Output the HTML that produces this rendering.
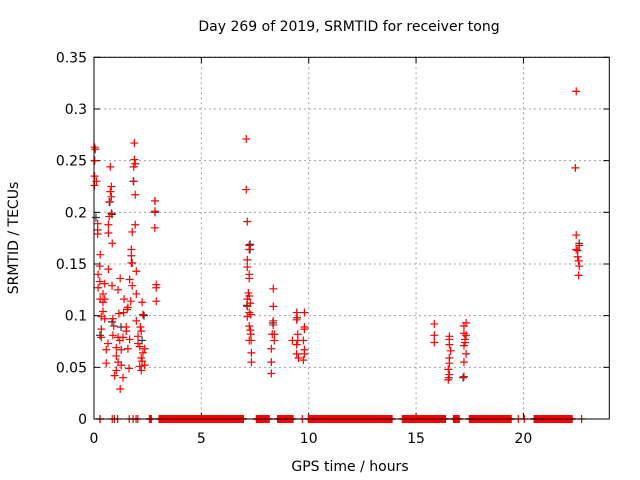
<!DOCTYPE html>
<html><head><meta charset="utf-8"><style>
html,body{margin:0;padding:0;background:#fff;}
svg{display:block;font-family:"DejaVu Sans","Liberation Sans",sans-serif;}
</style></head><body>
<svg id="chart" width="640" height="480">
<text x="349" y="31" font-size="14" text-anchor="middle" fill="#000">Day 269 of 2019, SRMTID for receiver tong</text>
<text x="350" y="471" font-size="14" text-anchor="middle">GPS time / hours</text>
<text transform="translate(18,238) rotate(-90)" font-size="14" text-anchor="middle">SRMTID / TECUs</text>
<g id="grid"></g><g id="ticks"></g><g id="black"></g><g id="red"></g>
<rect x="94" y="57.3" width="515.3" height="361.7" fill="none" stroke="#000" stroke-width="1"/>
</svg>
<script>
const xTicks=[0,5,10,15,20];
const yTicks=[0,0.05,0.1,0.15,0.2,0.25,0.3,0.35];
const yTickLabels=["0","0.05","0.1","0.15","0.2","0.25","0.3","0.35"];
const redHours=[1.88,0.03,0.06,0.03,1.88,1.92,1.85,0.76,0.03,0.11,0.02,1.85,0.81,0.76,1.92,0.81,0.71,2.84,2.84,0.81,0.71,0.17,1.92,0.67,2.83,0.17,0.67,1.78,0.17,0.85,1.74,0.29,1.74,1.78,
1.74,0.27,0.19,0.67,1.97,1.22,0.27,1.66,0.50,0.84,2.90,0.19,1.78,2.90,1.12,0.42,1.97,0.29,0.50,1.40,1.71,0.42,2.24,2.90,1.58,1.54,0.42,1.16,2.28,1.38,0.34,0.50,0.88,1.97,1.50,0.34,2.16,0.92,2.20,1.50,0.88,1.12,0.34,1.35,1.66,2.05,1.20,0.65,2.05,1.04,2.13,0.57,2.36,1.27,1.58,2.28,1.04,2.20,0.57,1.12,1.27,2.36,2.13,1.04,1.63,2.20,0.96,1.35,1.22,2.24,
7.09,7.09,7.14,7.23,7.23,7.14,7.14,7.23,7.23,7.19,7.23,7.14,7.28,7.14,7.23,7.30,7.14,7.23,7.28,7.30,7.23,7.32,7.33,7.33,
8.35,8.35,8.35,8.35,8.40,8.30,8.40,8.26,8.26,8.26,
9.44,9.80,9.44,9.80,9.80,9.49,9.24,9.49,9.75,9.44,9.80,9.44,9.52,9.80,9.75,
15.85,15.85,15.85,16.55,16.55,16.55,16.61,16.55,16.55,16.50,16.55,16.50,17.33,17.23,17.23,17.33,17.28,17.28,17.23,17.33,17.23,17.23,
22.46,22.42,22.46,22.60,22.46,22.53,22.53,22.57,22.60,22.57];
const redValues=[0.267,0.263,0.261,0.250,0.251,0.247,0.244,0.244,0.235,0.230,0.226,0.230,0.225,0.220,0.217,0.215,0.210,0.211,0.201,0.199,0.196,0.189,0.188,0.188,0.185,0.183,0.180,0.181,0.179,0.170,0.164,0.159,0.158,0.151,
0.151,0.148,0.140,0.145,0.143,0.136,0.133,0.135,0.131,0.129,0.130,0.127,0.129,0.127,0.125,0.121,0.121,0.116,0.116,0.116,0.114,0.113,0.113,0.114,0.108,0.106,0.104,0.102,0.101,0.103,0.099,0.097,0.097,0.095,0.089,0.087,0.089,0.090,0.085,0.085,0.081,0.079,0.079,0.079,0.077,0.080,0.076,0.073,0.073,0.069,0.070,0.067,0.068,0.067,0.068,0.064,0.061,0.059,0.054,0.055,0.052,0.052,0.051,0.047,0.049,0.047,0.042,0.040,0.029,0.056,
0.271,0.222,0.191,0.168,0.164,0.154,0.147,0.140,0.136,0.122,0.119,0.116,0.112,0.109,0.103,0.101,0.099,0.090,0.086,0.082,0.076,0.076,0.064,0.055,
0.126,0.109,0.095,0.091,0.082,0.082,0.076,0.068,0.055,0.044,
0.103,0.103,0.096,0.089,0.087,0.082,0.076,0.076,0.076,0.072,0.067,0.063,0.059,0.063,0.057,
0.092,0.081,0.074,0.080,0.077,0.072,0.066,0.059,0.054,0.048,0.043,0.038,0.093,0.090,0.083,0.081,0.077,0.074,0.071,0.063,0.055,0.041,
0.317,0.243,0.178,0.168,0.164,0.163,0.157,0.153,0.148,0.139];
const blackHours=[0.03,1.83,2.84,2.84,0.74,0.84,0.09,7.27,7.27,0.28,0.84,2.33,1.26,2.24,7.12,8.33,9.46,16.53,17.19,22.6,0.28];
const blackValues=[0.25,0.23,0.211,0.2,0.21,0.198,0.195,0.169,0.164,0.081,0.094,0.1,0.089,0.076,0.11,0.093,0.098,0.04,0.04,0.17,0];
const zeroSingles=[0.28,0.85,0.95,1.10,1.64,1.82,1.96,2.04,9.70,19.76,20.04,22.71];
const zeroRangeStart=[2.58,3.03,7.56,8.55,9.98,14.36,16.74,17.48,20.50];
const zeroRangeEnd=[2.68,6.97,8.17,9.29,13.90,16.37,17.03,19.44,22.28];
const X0=94,X1=609.3,XMAX=24,Y0=419,Y1=57.3,YMAX=0.35;
const sx=h=>X0+h*(X1-X0)/XMAX, sy=v=>Y0-v*(Y0-Y1)/YMAX;
const NS="http://www.w3.org/2000/svg";
function mk(tag,attrs,parent){const e=document.createElementNS(NS,tag);for(const k in attrs)e.setAttribute(k,attrs[k]);parent.appendChild(e);return e;}
const grid=document.getElementById('grid'),ticks=document.getElementById('ticks');
xTicks.forEach(t=>{const x=sx(t);
 const g=mk('line',{x1:x,x2:x,y1:Y1,y2:Y0,stroke:'#a0a0a0','stroke-dasharray':'2,3'},grid);
 
 
 mk('line',{x1:x,x2:x,y1:Y0,y2:Y0-6,stroke:'#000'},ticks);
 mk('line',{x1:x,x2:x,y1:Y1,y2:Y1+6,stroke:'#000'},ticks);
 const l=mk('text',{x:x,y:443,'font-size':14,'text-anchor':'middle'},ticks);l.textContent=t;
 
 
});
yTicks.forEach((t,i)=>{const y=sy(t);
 const g=mk('line',{x1:X0,x2:X1,y1:y,y2:y,stroke:'#a0a0a0','stroke-dasharray':'2,3'},grid);
 
 
 mk('line',{x1:X0,x2:X0+6,y1:y,y2:y,stroke:'#000'},ticks);
 mk('line',{x1:X1,x2:X1-6,y1:y,y2:y,stroke:'#000'},ticks);
 const l=mk('text',{x:87,y:y+5,'font-size':14,'text-anchor':'end'},ticks);l.textContent=yTickLabels[i];
 
 
});
function cross(h,v,col,parent){const x=sx(h),y=sy(v);
 const p=mk('path',{d:`M${x-4},${y}h8M${x},${y-4}v8`,stroke:col,'stroke-width':1.2,fill:'none'},parent);
 
 
}
const blk=document.getElementById('black'),red=document.getElementById('red');
blackHours.forEach((h,i)=>cross(h,blackValues[i],'#333',blk));
redHours.forEach((h,i)=>cross(h,redValues[i],'#ff0000',red));
zeroSingles.forEach(h=>cross(h,0,'#ff0000',red));
zeroRangeStart.forEach((s,i)=>{for(let h=s;h<=zeroRangeEnd[i]+1e-9;h+=0.03)cross(h,0,'#ff0000',red);});
</script>
</body></html>
